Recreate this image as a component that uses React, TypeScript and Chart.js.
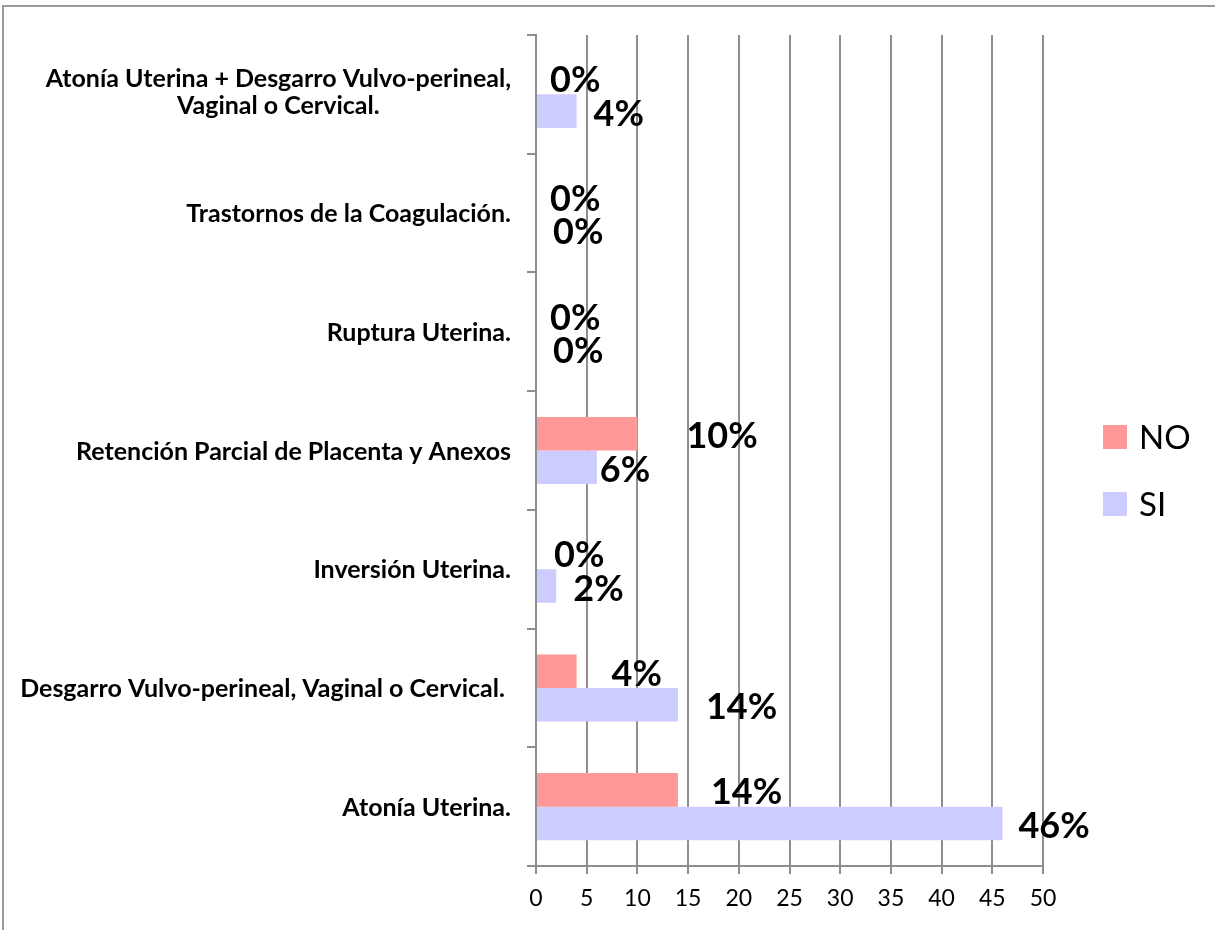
import React, { useEffect, useRef } from "react";
import { Chart, registerables } from "chart.js";

Chart.register(...registerables);

const categories: (string | string[])[] = [
  ["Atonía Uterina + Desgarro Vulvo-perineal,", "Vaginal o Cervical."],
  "Trastornos de la Coagulación.",
  "Ruptura Uterina.",
  "Retención Parcial de Placenta y Anexos",
  "Inversión Uterina.",
  "Desgarro Vulvo-perineal, Vaginal o Cervical. ",
  "Atonía Uterina.",
];
const seriesNames = ["NO", "SI"];
const noValues = [0, 0, 0, 10, 0, 4, 14];
const siValues = [4, 0, 0, 6, 2, 14, 46];
const xMin = 0;
const xMax = 50;
const xStep = 5;

// label placement nudges (pixels to the right of each bar end)
const noLabelNudge = [14, 14, 14, 49, 18, 35, 33];
const siLabelNudge = [17, 17, 17, 3, 17, 28, 16];

const NO_COLOR = "#FF9999";
const SI_COLOR = "#CCCCFF";
const GRID = "#8e8e8e";
const FONT = "Lato, 'Open Sans', sans-serif";

export default function App() {
  const ref = useRef<HTMLCanvasElement | null>(null);

  useEffect(() => {
    document.body.style.margin = "0";
    const canvas = ref.current;
    if (!canvas) return;

    const framePlugin = {
      id: "frame",
      beforeDraw(chart: any) {
        const ctx = chart.ctx;
        ctx.save();
        ctx.fillStyle = "#ffffff";
        ctx.fillRect(0, 0, chart.width, chart.height);
        ctx.strokeStyle = "#9a9a9a";
        ctx.lineWidth = 2;
        ctx.beginPath();
        ctx.moveTo(3, chart.height + 5);
        ctx.lineTo(3, 6);
        ctx.lineTo(chart.width + 5, 6);
        ctx.stroke();
        ctx.restore();
      },
    };

    const catLabelPlugin = {
      id: "catLabels",
      afterDraw(chart: any) {
        const ctx = chart.ctx;
        const y = chart.scales.y;
        const rightEdge = chart.chartArea.left - 25;
        ctx.save();
        ctx.font = `bold 25px ${FONT}`;
        ctx.fillStyle = "#000";
        ctx.textBaseline = "middle";
        ctx.textAlign = "center";
        categories.forEach((c, i) => {
          const lines = Array.isArray(c) ? c : [c];
          const maxW = Math.max(...lines.map((l) => ctx.measureText(l).width));
          const cx = rightEdge - maxW / 2;
          const lh = 27;
          const cy = y.getPixelForValue(i) + 1;
          lines.forEach((l, k) => {
            const ly = cy + (k - (lines.length - 1) / 2) * lh - 3 * (lines.length - 1);
            ctx.fillText(l, cx, ly);
          });
        });
        ctx.restore();
      },
    };

    const valueLabelPlugin = {
      id: "valueLabels",
      afterDatasetsDraw(chart: any) {
        const ctx = chart.ctx;
        ctx.save();
        ctx.font = `bold 36px ${FONT}`;
        ctx.fillStyle = "#000";
        ctx.textBaseline = "middle";
        ctx.textAlign = "left";
        chart.data.datasets.forEach((ds: any, di: number) => {
          const meta = chart.getDatasetMeta(di);
          const nudge = di === 0 ? noLabelNudge : siLabelNudge;
          meta.data.forEach((bar: any, i: number) => {
            const v = ds.data[i];
            ctx.fillText(`${v}%`, bar.x + nudge[i], bar.y + 3);
          });
        });
        ctx.restore();
      },
    };

    const legendPlugin = {
      id: "customLegend",
      afterDraw(chart: any) {
        const ctx = chart.ctx;
        ctx.save();
        ctx.font = `33px ${FONT}`;
        ctx.textBaseline = "middle";
        ctx.textAlign = "left";
        const items = [
          { label: seriesNames[0], color: NO_COLOR, cy: 437 },
          { label: seriesNames[1], color: SI_COLOR, cy: 504 },
        ];
        items.forEach((it) => {
          ctx.fillStyle = it.color;
          ctx.fillRect(1103, it.cy - 12, 24, 24);
          ctx.fillStyle = "#000";
          ctx.fillText(it.label, 1139, it.cy + 1);
        });
        ctx.restore();
      },
    };

    const chart = new Chart(canvas, {
      type: "bar",
      data: {
        labels: categories as any,
        datasets: [
          {
            label: seriesNames[0],
            data: noValues,
            backgroundColor: NO_COLOR,
            borderWidth: 0,
            barPercentage: 1,
            categoryPercentage: 0.565,
          },
          {
            label: seriesNames[1],
            data: siValues,
            backgroundColor: SI_COLOR,
            borderWidth: 0,
            barPercentage: 1,
            categoryPercentage: 0.565,
          },
        ],
      },
      options: {
        indexAxis: "y",
        responsive: false,
        maintainAspectRatio: false,
        animation: false,
        layout: { padding: { left: 0, top: 35, right: 172, bottom: 0 } },
        plugins: {
          legend: { display: false },
          tooltip: { enabled: false },
        },
        scales: {
          x: {
            type: "linear",
            position: "bottom",
            min: xMin,
            max: xMax,
            ticks: {
              stepSize: xStep,
              color: "#000",
              font: { family: FONT, size: 23 },
              padding: 11,
            },
            grid: {
              color: GRID,
              lineWidth: 2,
              drawTicks: true,
              tickLength: 8,
            },
            border: { display: true, color: GRID, width: 2 },
            afterFit(scale: any) {
              scale.height = 64;
            },
          },
          y: {
            type: "category",
            position: "left",
            offset: true,
            ticks: { display: false },
            grid: {
              display: true,
              drawOnChartArea: false,
              drawTicks: true,
              tickLength: 9,
              color: GRID,
              lineWidth: 2,
              offset: true,
            },
            border: { display: true, color: GRID, width: 2 },
            afterFit(scale: any) {
              scale.width = 536;
            },
          },
        },
      } as any,
      plugins: [framePlugin, catLabelPlugin, valueLabelPlugin, legendPlugin],
    });

    return () => chart.destroy();
  }, []);

  return (
    <div style={{ width: 1215, height: 930 }}>
      <canvas ref={ref} width={1215} height={930} style={{ display: "block" }} />
    </div>
  );
}
